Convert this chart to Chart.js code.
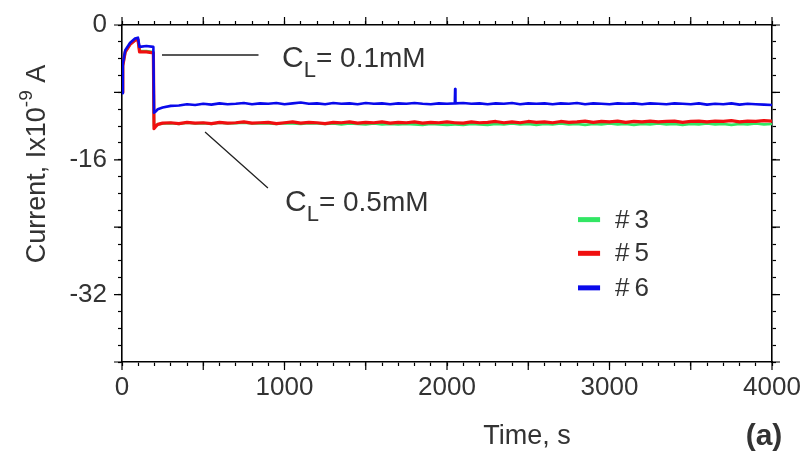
<!DOCTYPE html>
<html>
<head>
<meta charset="utf-8">
<script src="https://cdn.jsdelivr.net/npm/chart.js@4.4.0/dist/chart.umd.min.js"></script>
<style>
  html, body { margin: 0; padding: 0; background: #fff; }
  #wrap { width: 800px; height: 466px; }
</style>
</head>
<body>
<div id="wrap"><canvas id="chart" width="800" height="466"></canvas></div>
<script>
// time axis, seconds
const time = [0, 5, 20, 50, 80, 98, 108, 150, 193, 197, 205, 220,
  250, 300, 350, 400, 450, 500, 550, 600, 650, 700, 750, 800, 850, 900, 950, 1000,
  1050, 1100, 1150, 1200, 1250, 1300, 1350, 1400, 1450, 1500, 1550, 1600, 1650, 1700,
  1750, 1800, 1850, 1900, 1950, 2000, 2048, 2050, 2052,
  2100, 2150, 2200, 2250, 2300, 2350, 2400, 2450, 2500, 2550, 2600, 2650, 2700, 2750,
  2800, 2850, 2900, 2950, 3000, 3050, 3100, 3150, 3200, 3250, 3300, 3350, 3400, 3450,
  3500, 3550, 3600, 3650, 3700, 3750, 3800, 3850, 3900, 3950, 4000];

// current, 1e-9 A
const run3 = [-8.0, -4.9, -3.2, -2.3, -1.8, -1.7, -3.1, -3.1, -3.2, -12.0, -11.9, -11.8,
  -11.7, -11.65, -11.75, -11.6, -11.7, -11.65, -11.75, -11.6, -11.7, -11.65, -11.6, -11.7, -11.65, -11.7, -11.75, -11.65,
  -11.7, -11.75, -11.65, -11.7, -11.75, -11.7, -11.8, -11.7, -11.75, -11.8, -11.7, -11.8, -11.75, -11.8,
  -11.75, -11.8, -11.85, -11.75, -11.8, -11.85, -11.8, -11.8, -11.8,
  -11.85, -11.75, -11.8, -11.85, -11.75, -11.8, -11.7, -11.8, -11.75, -11.85, -11.75, -11.8, -11.7, -11.8,
  -11.75, -11.85, -11.75, -11.8, -11.7, -11.8, -11.75, -11.85, -11.75, -11.8, -11.7, -11.8, -11.75, -11.85,
  -11.75, -11.8, -11.7, -11.8, -11.75, -11.85, -11.75, -11.8, -11.7, -11.8, -11.75];

const run5 = [-8.0, -4.8, -3.2, -2.3, -1.8, -1.7, -3.2, -3.2, -3.3, -12.3, -12.1, -11.8,
  -11.65, -11.6, -11.7, -11.55, -11.65, -11.6, -11.7, -11.55, -11.65, -11.6, -11.5, -11.65, -11.6, -11.55, -11.7, -11.6,
  -11.5, -11.65, -11.55, -11.6, -11.7, -11.55, -11.6, -11.5, -11.65, -11.55, -11.6, -11.5, -11.65, -11.55,
  -11.6, -11.5, -11.65, -11.55, -11.6, -11.5, -11.6, -11.6, -11.6,
  -11.65, -11.5, -11.6, -11.55, -11.45, -11.6, -11.5, -11.6, -11.45, -11.55, -11.5, -11.6, -11.45, -11.55,
  -11.5, -11.4, -11.55, -11.45, -11.5, -11.4, -11.55, -11.45, -11.5, -11.4, -11.5, -11.45, -11.4, -11.55,
  -11.45, -11.4, -11.5, -11.4, -11.45, -11.35, -11.5, -11.4, -11.45, -11.35, -11.4];

const run6 = [-8.1, -4.6, -3.0, -2.1, -1.6, -1.5, -2.6, -2.5, -2.6, -10.4, -10.3, -10.0,
  -9.8, -9.6, -9.55, -9.4, -9.5, -9.35, -9.45, -9.3, -9.4, -9.35, -9.25, -9.4, -9.3, -9.35, -9.25, -9.4,
  -9.3, -9.2, -9.35, -9.3, -9.4, -9.25, -9.35, -9.3, -9.4, -9.25, -9.35, -9.3, -9.4, -9.3,
  -9.35, -9.25, -9.35, -9.4, -9.3, -9.35, -9.3, -7.6, -9.3,
  -9.25, -9.35, -9.3, -9.4, -9.3, -9.35, -9.25, -9.4, -9.3, -9.35, -9.3, -9.4, -9.3, -9.35,
  -9.25, -9.4, -9.3, -9.35, -9.4, -9.3, -9.35, -9.3, -9.4, -9.3, -9.35, -9.4, -9.3, -9.35,
  -9.4, -9.3, -9.45, -9.35, -9.4, -9.3, -9.45, -9.35, -9.4, -9.45, -9.5];

const xTickLabels = [0, 1000, 2000, 3000, 4000];
const yTickLabels = [0, -16, -32];

const FONT = "'Liberation Sans', Arial, sans-serif";
const INK = '#333';

function pts(ys) {
  return time.map((t, i) => ({ x: t, y: ys[i] }));
}

// long ticks, labels, legend and callouts
const overlay = {
  id: 'overlay',
  afterDatasetsDraw(chart) {
    const ctx = chart.ctx;
    const xs = chart.scales.x, ys = chart.scales.y;
    const a = chart.chartArea;
    ctx.save();

    // longer tick marks every 500 s and every 8 units
    ctx.strokeStyle = '#000';
    ctx.lineWidth = 1.2;
    ctx.beginPath();
    for (let v = 0; v <= 4000; v += 500) {
      const px = xs.getPixelForValue(v);
      ctx.moveTo(px, a.bottom); ctx.lineTo(px, a.bottom + 8);
      ctx.moveTo(px, a.top); ctx.lineTo(px, a.top - 8);
    }
    for (let v = -40; v <= 0; v += 8) {
      const py = ys.getPixelForValue(v);
      ctx.moveTo(a.left - 8, py); ctx.lineTo(a.left, py);
      ctx.moveTo(a.right, py); ctx.lineTo(a.right + 8, py);
    }
    ctx.stroke();

    // callouts
    ctx.strokeStyle = '#222';
    ctx.lineWidth = 1.3;
    ctx.beginPath();
    ctx.moveTo(xs.getPixelForValue(246), ys.getPixelForValue(-3.56));
    ctx.lineTo(xs.getPixelForValue(840), ys.getPixelForValue(-3.56));
    ctx.moveTo(xs.getPixelForValue(511), ys.getPixelForValue(-12.7));
    ctx.lineTo(xs.getPixelForValue(898), ys.getPixelForValue(-19.35));
    ctx.stroke();

    ctx.fillStyle = INK;
    ctx.textBaseline = 'alphabetic';
    ctx.textAlign = 'left';
    function cl(x, y, rest) {
      ctx.font = '30px ' + FONT;
      ctx.fillText('C', x, y);
      let w = ctx.measureText('C').width;
      ctx.font = '22px ' + FONT;
      ctx.fillText('L', x + w, y + 10);
      w += ctx.measureText('L').width;
      ctx.font = '28px ' + FONT;
      ctx.fillText(rest, x + w, y);
    }
    cl(xs.getPixelForValue(985), ys.getPixelForValue(-4.99), '= 0.1mM');
    cl(xs.getPixelForValue(1003), ys.getPixelForValue(-22.1), '= 0.5mM');

    // legend
    const legY = [-23.1, -27.1, -31.2];
    chart.data.datasets.forEach((d, i) => {
      const py = ys.getPixelForValue(legY[i]);
      ctx.strokeStyle = d.borderColor;
      ctx.lineWidth = 5;
      ctx.beginPath();
      ctx.moveTo(xs.getPixelForValue(2806), py);
      ctx.lineTo(xs.getPixelForValue(2942), py);
      ctx.stroke();
      ctx.font = '26px ' + FONT;
      ctx.letterSpacing = '5px';
      ctx.textBaseline = 'middle';
      ctx.fillStyle = INK;
      ctx.fillText(d.label, xs.getPixelForValue(3034), py + 1);
      ctx.letterSpacing = '0px';
    });

    // axis titles
    ctx.textBaseline = 'middle';
    ctx.font = '27px ' + FONT;
    ctx.textAlign = 'center';
    ctx.fillText('Time, s', 527, 437);
    ctx.font = 'bold 30px ' + FONT;
    ctx.fillText('(a)', 764, 437);

    ctx.translate(38, 164);
    ctx.rotate(-Math.PI / 2);
    ctx.textAlign = 'left';
    const p1 = 'Current, Ix10', p2 = '-9', p3 = ' A';
    ctx.font = '27px ' + FONT;
    const w1 = ctx.measureText(p1).width, w3 = ctx.measureText(p3).width;
    ctx.font = '19px ' + FONT;
    const w2 = ctx.measureText(p2).width;
    let x0 = -(w1 + w2 + w3) / 2;
    ctx.font = '27px ' + FONT;
    ctx.fillText(p1, x0, 0);
    ctx.font = '19px ' + FONT;
    ctx.fillText(p2, x0 + w1, -11);
    ctx.font = '27px ' + FONT;
    ctx.fillText(p3, x0 + w1 + w2, 0);
    ctx.restore();
  }
};

const tickFont = { family: FONT, size: 26 };
const gridOpts = { drawOnChartArea: false, drawTicks: true, tickLength: 4, tickColor: '#000', tickWidth: 1.2 };
const borderOpts = { display: true, color: '#000', width: 1.6 };

new Chart(document.getElementById('chart'), {
  type: 'line',
  data: {
    datasets: [
      { label: '#3', data: pts(run3), borderColor: 'rgb(50,230,100)', order: 3 },
      { label: '#5', data: pts(run5), borderColor: 'rgb(240,15,15)', order: 2, borderWidth: 3.2 },
      { label: '#6', data: pts(run6), borderColor: 'rgb(10,10,235)', order: 1 }
    ]
  },
  options: {
    responsive: false,
    animation: false,
    parsing: false,
    layout: { padding: 0 },
    elements: {
      point: { radius: 0 },
      line: { borderWidth: 2.6, tension: 0, fill: false, borderJoinStyle: 'round' }
    },
    plugins: { legend: { display: false }, tooltip: { enabled: false } },
    scales: {
      x: {
        type: 'linear', position: 'bottom', min: 0, max: 4000,
        ticks: {
          stepSize: 100, autoSkip: false, maxRotation: 0, padding: 6,
          font: tickFont, color: INK,
          callback: v => xTickLabels.includes(v) ? String(v) : ''
        },
        grid: gridOpts, border: borderOpts,
        afterFit: s => { s.height = 104; s.paddingLeft = 0; s.paddingRight = 0; }
      },
      x2: {
        type: 'linear', position: 'top', min: 0, max: 4000,
        ticks: { stepSize: 100, autoSkip: false, display: false },
        grid: gridOpts, border: borderOpts,
        afterFit: s => { s.height = 25; s.paddingLeft = 0; s.paddingRight = 0; }
      },
      y: {
        type: 'linear', position: 'left', min: -40, max: 0,
        ticks: {
          stepSize: 2, autoSkip: false, padding: 11,
          font: tickFont, color: INK,
          callback: v => yTickLabels.includes(v) ? String(v) : ''
        },
        grid: gridOpts, border: borderOpts,
        afterFit: s => { s.width = 122; s.paddingTop = 0; s.paddingBottom = 0; }
      },
      y2: {
        type: 'linear', position: 'right', min: -40, max: 0,
        ticks: { stepSize: 2, autoSkip: false, display: false },
        grid: gridOpts, border: borderOpts,
        afterFit: s => { s.width = 28; s.paddingTop = 0; s.paddingBottom = 0; }
      }
    }
  },
  plugins: [overlay]
});
</script>
</body>
</html>
